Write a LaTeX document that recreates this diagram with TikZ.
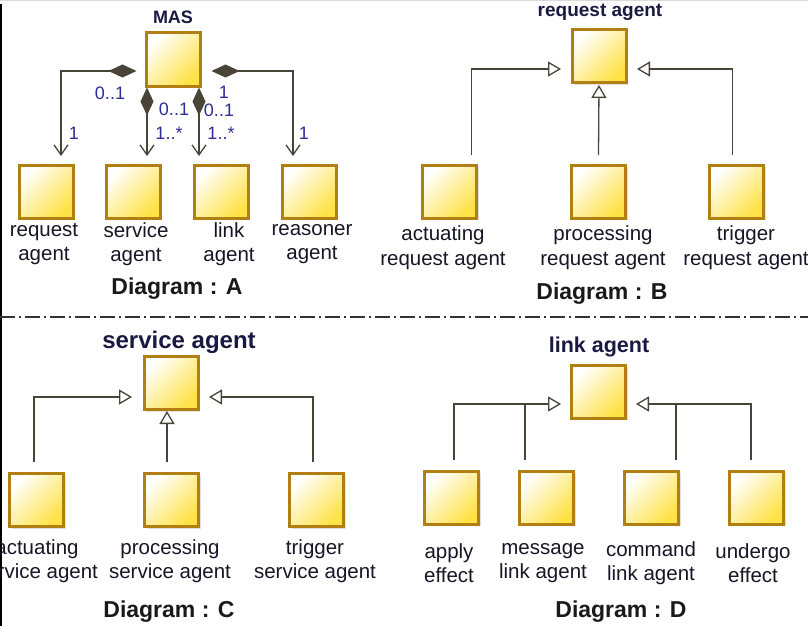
\documentclass[tikz,border=0pt]{standalone}
\usepackage{fontspec}
\setmainfont{Liberation Sans}
\usetikzlibrary{arrows.meta,shadows,positioning}

\definecolor{boxline}{RGB}{178,128,18}
\definecolor{boxfill}{RGB}{255,226,70}
\definecolor{wire}{RGB}{72,68,55}
\definecolor{multcol}{RGB}{45,45,150}
\definecolor{lblcol}{RGB}{22,22,38}
\definecolor{titlecol}{RGB}{25,25,65}

\tikzset{
  agent/.style={draw=boxline, line width=3pt, minimum width=54pt, minimum height=53pt, inner sep=0pt,
    top color=white, bottom color=boxfill, shading angle=45,
    drop shadow={shadow xshift=2pt, shadow yshift=-2pt, fill=black!30, opacity=0.4}},
  agentlbl/.style={font=\fontsize{20.5}{24.5}\selectfont, text=lblcol, align=center, inner sep=0pt},
  boxtitle/.style={text=titlecol, inner sep=0pt},
  diagtitle/.style={font=\fontsize{23}{27}\selectfont\bfseries, text=black!90, inner sep=0pt},
  mult/.style={font=\fontsize{18}{20}\selectfont, text=multcol, inner sep=0pt},
  compo/.style={wire, line width=1.3pt, {Diamond[length=28pt,width=13pt]}-{Straight Barb[length=10pt,width=14pt]}},
  inherit/.style={wire, line width=1.3pt, -{Triangle[open,length=13pt,width=15pt]}},
  branch/.style={wire, line width=1.3pt},
  divider/.style={black!80, line width=1.3pt, dash pattern=on 15pt off 4pt on 2pt off 4pt}
}

\begin{document}
\begin{tikzpicture}[x=1pt,y=-1pt]
\useasboundingbox (0,0) rectangle (808,626);
\draw[black!15, line width=1.5pt] (0,0.75) -- (808,0.75);
\draw[black, line width=1.5pt] (0.75,4) -- (0.75,626);

% Diagram A
\node[boxtitle, font=\fontsize{18}{20}\selectfont\bfseries] (masT) at (173,17) {MAS};
\node[agent] (mas) at (173,59.5) {};
\node[agent] (reqA) at (46,191.5) {};
\node[agent] (servA) at (133,191.5) {};
\node[agent] (linkA) at (221,191.5) {};
\node[agent] (reasA) at (309,191.5) {};
\node[agentlbl] (reqAl) at (44,244) {request\\agent};
\node[agentlbl] (servAl) at (136,244) {service\\agent};
\node[agentlbl] (linkAl) at (229,244) {link\\agent};
\node[agentlbl] (reasAl) at (312,244) {reasoner\\agent};
\node[diagtitle] (diagA) at (177,289) {Diagram : A};

\draw[compo] ([xshift=-8pt,yshift=-11.5pt]mas.west) -| ([xshift=15pt,yshift=7.5pt]reqA.north);
\draw[compo] ([xshift=-26pt]mas.south) -- ([xshift=14pt,yshift=7.5pt]servA.north);
\draw[compo] ([xshift=26pt]mas.south) -- ([xshift=-22pt,yshift=7.5pt]linkA.north);
\draw[compo] ([xshift=10pt,yshift=-11.5pt]mas.east) -| ([xshift=-16pt,yshift=7.5pt]reasA.north);

\node[mult] (mA1) at (110,93) {0..1};
\node[mult] (mA2) at (74,133) {1};
\node[mult] (mA3) at (174,109) {0..1};
\node[mult] (mA4) at (169,133) {1..*};
\node[mult] (mA5) at (219,110) {0..1};
\node[mult] (mA6) at (221,133) {1..*};
\node[mult] (mA7) at (224,92) {1};
\node[mult] (mA8) at (304,133) {1};

% Diagram B
\node[boxtitle, font=\fontsize{19}{21}\selectfont\bfseries] (reqBT) at (600,12) {request agent};
\node[agent] (reqB) at (599,56) {};
\node[agent] (actB) at (449.5,191.5) {};
\node[agent] (procB) at (598.5,191.5) {};
\node[agent] (trigB) at (736.5,191.5) {};
\node[agentlbl] (actBl) at (443,247.5) {actuating\\request agent};
\node[agentlbl] (procBl) at (603,247.5) {processing\\request agent};
\node[agentlbl] (trigBl) at (746,247.5) {trigger\\request agent};
\node[diagtitle] (diagB) at (602,294) {Diagram : B};

\draw[inherit] ([xshift=22pt,yshift=8.5pt]actB.north) |- ([xshift=-9.5pt,yshift=-13pt]reqB.west);
\draw[inherit] ([yshift=8.5pt]procB.north) -- ([yshift=-1pt]reqB.south);
\draw[inherit] ([xshift=-4pt,yshift=8.5pt]trigB.north) |- ([xshift=9.5pt,yshift=-13pt]reqB.east);

\draw[divider] (0,317) -- (808,317);

% Diagram C
\node[boxtitle, font=\fontsize{24}{26}\selectfont\bfseries] (servCT) at (179,342) {service agent};
\node[agent] (servC) at (171,383) {};
\node[agent] (actC) at (36.5,500) {};
\node[agent] (procC) at (171.5,500) {};
\node[agent] (trigC) at (316.5,500) {};
\node[agentlbl] (actCl) at (37,561) {actuating\\service agent};
\node[agentlbl] (procCl) at (170,561) {processing\\service agent};
\node[agentlbl] (trigCl) at (315,561) {trigger\\service agent};
\node[diagtitle] (diagC) at (169,612) {Diagram : C};

\draw[inherit] ([xshift=-2.5pt,yshift=10pt]actC.north) |- ([xshift=-10.5pt,yshift=-14pt]servC.west);
\draw[inherit] ([xshift=-4.5pt,yshift=10pt]procC.north) -- ([xshift=-4pt]servC.south);
\draw[inherit] ([xshift=-3.5pt,yshift=10pt]trigC.north) |- ([xshift=9.5pt,yshift=-14pt]servC.east);

% Diagram D
\node[boxtitle, font=\fontsize{21.5}{24}\selectfont\bfseries] (linkDT) at (599,347) {link agent};
\node[agent] (linkD) at (598.5,391.5) {};
\node[agent] (applyD) at (451.5,497.5) {};
\node[agent] (msgD) at (546.5,497.5) {};
\node[agent] (cmdD) at (651.5,497.5) {};
\node[agent] (undD) at (756.5,497.5) {};
\node[agentlbl] (applyDl) at (449,563) {apply\\effect};
\node[agentlbl] (msgDl) at (543,563) {message\\link agent};
\node[agentlbl] (cmdDl) at (651,563) {command\\link agent};
\node[agentlbl] (undDl) at (753,563) {undergo\\effect};
\node[diagtitle] (diagD) at (621,612) {Diagram : D};

\coordinate (linkDw) at ([xshift=-9pt,yshift=-12.5pt]linkD.west);
\coordinate (linkDe) at ([xshift=9pt,yshift=-12.5pt]linkD.east);
\coordinate (msgtop) at ([xshift=-21.5pt,yshift=9.5pt]msgD.north);
\coordinate (cmdtop) at ([xshift=24.5pt,yshift=9.5pt]cmdD.north);
\draw[inherit] ([xshift=2.5pt,yshift=9.5pt]applyD.north) |- (linkDw);
\draw[branch] (msgtop) -- (msgtop |- linkDw);
\draw[inherit] ([xshift=-5.5pt,yshift=9.5pt]undD.north) |- (linkDe);
\draw[branch] (cmdtop) -- (cmdtop |- linkDe);

\end{tikzpicture}
\end{document}
